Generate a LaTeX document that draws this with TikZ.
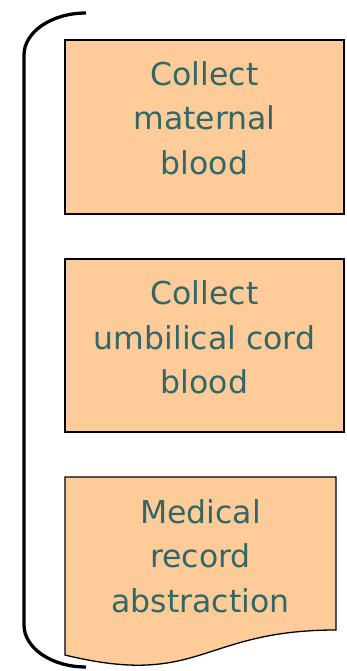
\documentclass[tikz,border=0pt]{standalone}
\usepackage{fontspec}
\setmainfont{DejaVu Sans}
\definecolor{boxfill}{HTML}{FFCC99}
\definecolor{tealtext}{HTML}{336666}
\begin{document}
\begin{tikzpicture}[x=1pt,y=-1pt,
  boxstyle/.style={draw=black,line width=1.3pt,fill=boxfill},
  rectbox/.style={boxstyle,rectangle,minimum width=279pt,inner sep=0pt,outer sep=0pt},
  boxtext/.style={text=tealtext,align=center,font=\fontsize{31.5}{44.5}\selectfont,inner sep=0pt},
  bracketline/.style={draw=black,line width=3.3pt}]
\useasboundingbox (0,0) rectangle (347,671);
% bracket
\draw[bracketline] (86,13) .. controls (51.8,13) and (24,31.8) .. (24,55)
  -- (24,625) .. controls (24,648.2) and (51.8,667) .. (86,667);
% box 1
\node[rectbox,minimum height=174pt] (box1) at (204.5,127) {};
\node[boxtext] (t1) at (204.5,118) {Collect\\maternal\\blood};
% box 2
\node[rectbox,minimum height=173pt] (box2) at (204.5,345.5) {};
\node[boxtext] (t2) at (204.5,337.5) {Collect\\umbilical cord\\blood};
% box 3 (document shape)
\path[boxstyle] (65,477) -- (336,477) -- (336,630)
  .. controls (200.5,630) and (200.5,688.1) .. (65,655) -- cycle;
\node[boxtext] (t3) at (200.5,556) {Medical\\record\\abstraction};
\end{tikzpicture}
\end{document}
